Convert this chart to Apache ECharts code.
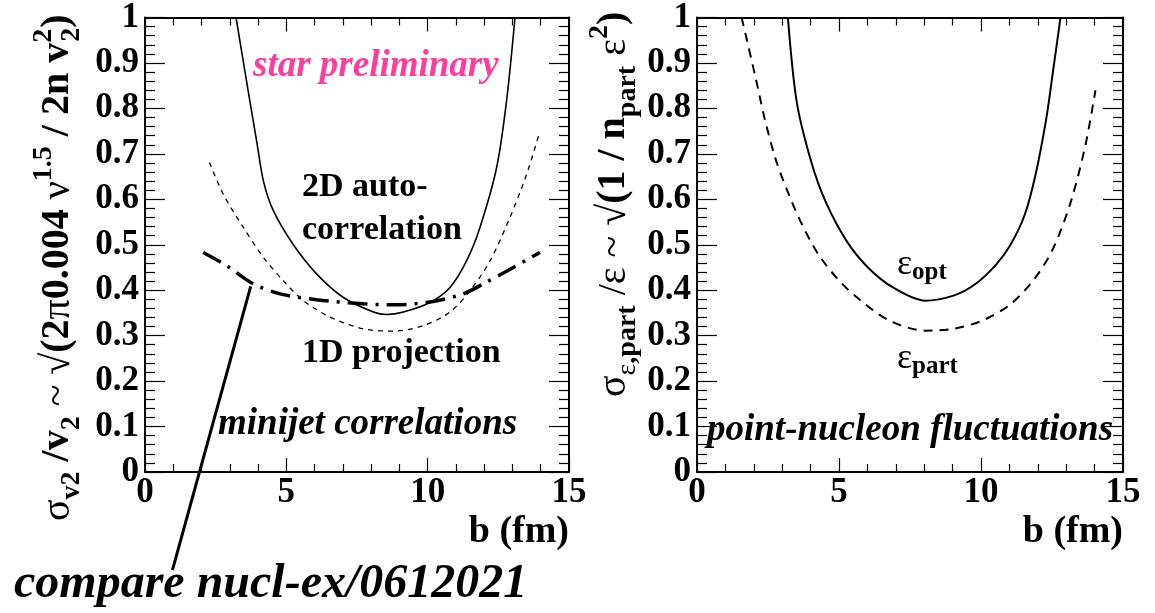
<!DOCTYPE html>
<html>
<head>
<meta charset="utf-8">
<script src="https://cdn.jsdelivr.net/npm/echarts@6/dist/echarts.min.js"></script>
<style>
  html, body { margin: 0; padding: 0; background: #fff; }
  #chart { width: 1155px; height: 613px; }
</style>
</head>
<body>
<div id="chart"></div>
<script>
// ---- data: impact parameter b (fm) and relative fluctuation per curve ----
// left panel: minijet correlations
const autoCorrB = [3.22, 3.71, 3.95, 4.19, 4.54, 5.25, 6.07, 7.02, 8.08, 8.55, 9.14, 10.08, 10.79, 11.38, 11.85, 12.44, 12.79, 13.09];
const autoCorrV = [1.0, 0.816, 0.728, 0.64, 0.575, 0.50, 0.436, 0.384, 0.352, 0.3465, 0.352, 0.373, 0.406, 0.465, 0.538, 0.67, 0.816, 1.0];

const projB = [2.28, 2.77, 3.48, 4.19, 4.89, 5.60, 6.54, 7.72, 8.79, 9.85, 10.79, 11.50, 12.21, 12.91, 13.50, 13.92];
const projV = [0.681, 0.611, 0.538, 0.472, 0.421, 0.377, 0.341, 0.315, 0.31, 0.322, 0.352, 0.399, 0.465, 0.56, 0.655, 0.739];

const nuclExB = [2.06, 2.89, 3.83, 4.78, 6.07, 7.72, 8.90, 10.08, 11.26, 11.97, 13.03, 13.97];
const nuclExV = [0.483, 0.454, 0.414, 0.392, 0.379, 0.37, 0.368, 0.374, 0.392, 0.414, 0.45, 0.483];

// right panel: point-nucleon fluctuations
const epsOptB = [3.20, 3.51, 4.02, 4.52, 5.27, 6.02, 6.90, 8.03, 9.03, 9.79, 10.54, 11.04, 11.54, 11.92, 12.30, 12.55, 12.80];
const epsOptV = [1.0, 0.815, 0.683, 0.596, 0.508, 0.45, 0.406, 0.377, 0.388, 0.413, 0.457, 0.5, 0.566, 0.654, 0.778, 0.888, 1.0];

const epsPartB = [1.57, 2.07, 2.38, 2.76, 3.14, 3.64, 4.27, 5.02, 5.77, 6.78, 8.03, 9.03, 10.04, 11.04, 11.92, 12.55, 13.17, 13.68, 14.03];
const epsPartV = [1.0, 0.866, 0.778, 0.69, 0.625, 0.552, 0.479, 0.42, 0.377, 0.333, 0.311, 0.315, 0.333, 0.369, 0.428, 0.493, 0.596, 0.72, 0.84];

// arrow from the citation text up to the nucl-ex curve (left panel data coordinates)
const arrowTail = [0.97, -0.215];
const arrowTip = [3.81, 0.423];

// axis ranges
const bRange = [0, 15];
const vRange = [0, 1];

// ---- layout ----
const leftGrid = { left: 145, top: 16, width: 424, height: 456 };
const rightGrid = { left: 697, top: 16, width: 426, height: 456 };

// ---- helpers ----
const serif = '"Liberation Serif", "Times New Roman", Times, serif';
const zip = (xs, ys) => xs.map((x, i) => [x, ys[i]]);
const tickLine = () => ({ color: '#000', width: 1.2 });
const frameLine = () => ({ color: '#000', width: 2 });

// linear value -> pixel mapping of a grid (same scale as its value axes)
function gridPoint(g, p) {
  return [
    g.left + (p[0] - bRange[0]) / (bRange[1] - bRange[0]) * g.width,
    g.top + g.height - (p[1] - vRange[0]) / (vRange[1] - vRange[0]) * g.height
  ];
}

function xAxisFor(grid, pos) {
  return {
    type: 'value', gridIndex: grid, position: pos,
    min: bRange[0], max: bRange[1], interval: 5,
    axisLine: { show: true, onZero: false, lineStyle: frameLine() },
    axisTick: { show: true, inside: true, length: 14, lineStyle: tickLine() },
    minorTick: { show: true, splitNumber: 5, length: 8, lineStyle: tickLine() },
    splitLine: { show: false },
    axisLabel: pos === 'bottom'
      ? { show: true, color: '#000', fontFamily: serif, fontWeight: 'bold', fontSize: 35, margin: 3 }
      : { show: false }
  };
}
function yAxisFor(grid, pos) {
  return {
    type: 'value', gridIndex: grid, position: pos,
    min: vRange[0], max: vRange[1], interval: 0.1,
    axisLine: { show: true, onZero: false, lineStyle: frameLine() },
    axisTick: { show: true, inside: true, length: 20, lineStyle: tickLine() },
    minorTick: { show: true, splitNumber: 5, length: 10, lineStyle: tickLine() },
    splitLine: { show: false },
    axisLabel: pos === 'left'
      ? { show: true, color: '#000', fontFamily: serif, fontWeight: 'bold', fontSize: 35, margin: 6 }
      : { show: false }
  };
}
function curve(name, xs, ys, axisIdx, lineStyle, extra) {
  return Object.assign({
    name, type: 'line', xAxisIndex: axisIdx, yAxisIndex: axisIdx,
    data: zip(xs, ys), symbol: 'none', smooth: 0.3,
    lineStyle: Object.assign({ color: '#000' }, lineStyle)
  }, extra || {});
}

// rich styles for axis titles and curve labels
const big = 40, small = 28;
const titleRich = {
  g:  { fontFamily: serif, fontSize: big, fontWeight: 'normal', lineHeight: 56, fill: '#000' },
  b:  { fontFamily: serif, fontSize: big, fontWeight: 'bold', lineHeight: 56, fill: '#000' },
  gs: { fontFamily: serif, fontSize: small, fontWeight: 'normal', lineHeight: small, verticalAlign: 'bottom', fill: '#000' },
  bs: { fontFamily: serif, fontSize: small, fontWeight: 'bold', lineHeight: small, verticalAlign: 'bottom', fill: '#000' },
  bp: { fontFamily: serif, fontSize: small, fontWeight: 'bold', lineHeight: small, verticalAlign: 'top', fill: '#000' },
  bz: { fontFamily: serif, fontSize: small, fontWeight: 'bold', lineHeight: small, verticalAlign: 'top', width: 1, fill: '#000' }
};
const epsRich = {
  e: { fontFamily: serif, fontSize: 36, fontWeight: 'normal', lineHeight: 40, fill: '#000' },
  s: { fontFamily: serif, fontSize: 25, fontWeight: 'bold', lineHeight: 25, verticalAlign: 'bottom', fill: '#000' }
};

function label(x, y, text, size, opts) {
  return {
    type: 'text', x, y, silent: true,
    style: Object.assign({
      text, fill: '#000', fontFamily: serif, fontSize: size, fontWeight: 'bold',
      align: 'left', verticalAlign: 'middle'
    }, opts || {})
  };
}

// arrow geometry: the triangle head is centred on the line end, so stop half a head short of the tip
const headSize = 15;
const tipPx = gridPoint(leftGrid, arrowTip);
const tailPx = gridPoint(leftGrid, arrowTail);
const adx = tipPx[0] - tailPx[0], ady = tipPx[1] - tailPx[1];
const alen = Math.hypot(adx, ady);
const endPx = [tipPx[0] - adx / alen * headSize / 2, tipPx[1] - ady / alen * headSize / 2];

const chart = echarts.init(document.getElementById('chart'));

chart.setOption({
  animation: false,
  grid: [leftGrid, rightGrid],
  xAxis: [xAxisFor(0, 'bottom'), xAxisFor(1, 'bottom'), xAxisFor(0, 'top'), xAxisFor(1, 'top')],
  yAxis: [yAxisFor(0, 'left'), yAxisFor(1, 'left'), yAxisFor(0, 'right'), yAxisFor(1, 'right')],
  series: [
    curve('2D auto-correlation', autoCorrB, autoCorrV, 0, { width: 1.6 }),
    curve('1D projection', projB, projV, 0, { width: 1.3, type: [5, 5] }),
    curve('nucl-ex/0612021', nuclExB, nuclExV, 0, { width: 3.5, type: [20, 8, 3, 8] }, {
      clip: false,
      markLine: {
        silent: true, animation: false,
        symbol: ['none', 'triangle'], symbolSize: [0, headSize],
        lineStyle: { color: '#000', width: 3, type: 'solid' },
        itemStyle: { color: '#000' },
        label: { show: false },
        emphasis: { disabled: true },
        data: [[{ x: tailPx[0], y: tailPx[1] }, { x: endPx[0], y: endPx[1] }]]
      }
    }),
    curve('epsilon opt', epsOptB, epsOptV, 1, { width: 2 }),
    curve('epsilon part', epsPartB, epsPartV, 1, { width: 2, type: [9, 7] })
  ],
  graphic: [
    // y-axis titles (rotated, reading upward)
    {
      type: 'text', x: 58, y: 521, rotation: Math.PI / 2, silent: true,
      style: {
        text: '{g|σ}{bs|v2}{b| /v}{bs|2}{g| ~ }{g|√}{b|(2}{g|π}{b|0.004 }{g|ν}{bp|1.5}{b| / 2n v}{bz|2}{bs|2}{b|)}',
        rich: titleRich, align: 'left', verticalAlign: 'middle', fill: '#000'
      }
    },
    {
      type: 'text', x: 614, y: 397, rotation: Math.PI / 2, silent: true,
      style: {
        text: '{g|σ}{gs|ε}{bs|,part}{g| /ε ~ }{g|√}{b|(1 / n}{bs|part}{g| ε}{bp|2}{b|)}',
        rich: titleRich, align: 'left', verticalAlign: 'middle', fill: '#000'
      }
    },
    // x-axis titles
    label(569, 532, 'b (fm)', 38, { align: 'right' }),
    label(1123, 532, 'b (fm)', 38, { align: 'right' }),
    // left panel labels
    label(253, 66, 'star preliminary', 37, { fontStyle: 'italic', fill: '#ff3d9e' }),
    label(302, 187, '2D auto-', 34),
    label(302, 230, 'correlation', 34),
    label(302, 353, '1D projection', 34),
    label(218, 424, 'minijet correlations', 37, { fontStyle: 'italic' }),
    label(14, 585, 'compare nucl-ex/0612021', 48, { fontStyle: 'italic' }),
    // right panel labels
    {
      type: 'text', x: 897, y: 265, silent: true,
      style: { text: '{e|ε}{s|opt}', rich: epsRich, align: 'left', verticalAlign: 'middle', fill: '#000' }
    },
    {
      type: 'text', x: 897, y: 359, silent: true,
      style: { text: '{e|ε}{s|part}', rich: epsRich, align: 'left', verticalAlign: 'middle', fill: '#000' }
    },
    label(707, 430, 'point-nucleon fluctuations', 37, { fontStyle: 'italic' })
  ]
});
</script>
</body>
</html>
